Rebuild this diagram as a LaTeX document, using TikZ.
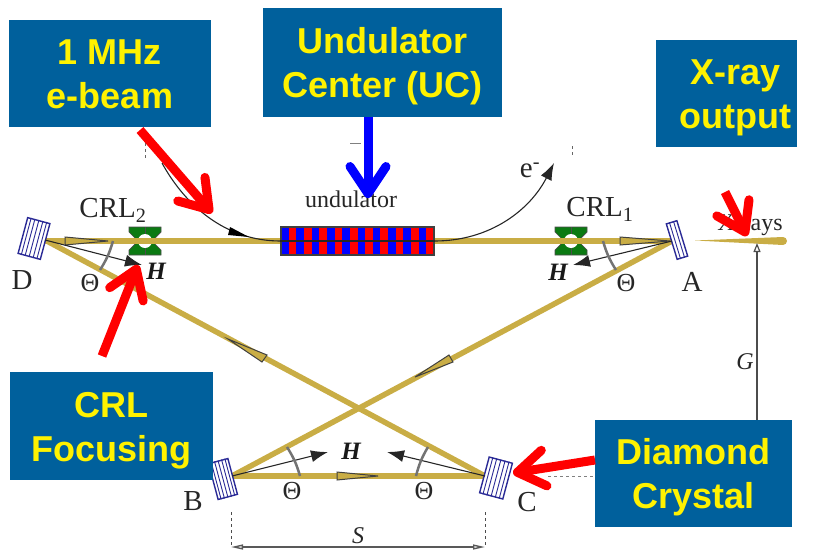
\documentclass[tikz,border=0pt]{standalone}
\usepackage{fontspec}
\setmainfont{Liberation Serif}
\newfontfamily\boxfont{Liberation Sans}
\usepackage{xcolor}
\usetikzlibrary{arrows.meta,calc}
\definecolor{boxblue}{HTML}{00609C}
\definecolor{beamgold}{HTML}{C9AD45}
\definecolor{lensgreen}{HTML}{0B7A12}
\definecolor{mirrorblue}{HTML}{2A2A96}
\tikzset{
  callout/.style={fill=boxblue, text=yellow, inner sep=0pt,
    font=\boxfont\bfseries\fontsize{36}{44}\selectfont},
  beam/.style={draw=beamgold, line width=5.5pt},
  wedge/.style={draw=black!75, fill=beamgold, line width=1pt},
  hvec/.style={draw=black!85, line width=1.1pt, -{Latex[length=17pt,width=12pt]}},
  anglemark/.style={draw=black!55, line width=2.5pt},
  pointer/.style={line width=9pt, -{Straight Barb[round,length=27pt,width=36pt,line width=9pt]}},
  lbl/.style={inner sep=0pt, font=\fontsize{29}{32}\selectfont, text=black!85},
  small/.style={inner sep=0pt, font=\fontsize{24}{28}\selectfont, text=black!85},
  vecl/.style={inner sep=0pt, font=\bfseries\itshape\fontsize{25}{28}\selectfont, text=black!90},
  mirror/.style={draw=mirrorblue, line width=1.4pt, fill=white, minimum height=37pt, inner sep=0pt}
}
\newcommand{\boxtext}[2]{\raisebox{-10.8pt}[0pt][0pt]{\begin{tabular}{@{}c@{}}#1\\#2\end{tabular}}}
\newcommand{\crllens}[2]{
  \fill[lensgreen, draw=black!70, line width=.7pt] (#1-16,#2-14) -- (#1+16,#2-14) -- (#1+16,#2-9) -- (#1+10,#2-3)
    -- (#1+10,#2+3) -- (#1+16,#2+9) -- (#1+16,#2+14) -- (#1-16,#2+14) -- (#1-16,#2+9)
    -- (#1-10,#2+3) -- (#1-10,#2-3) -- (#1-16,#2-9) -- cycle;
  \draw[black!70, line width=.7pt] (#1,#2-14) -- (#1,#2+14);
  \fill[white] (#1,#2) circle (7pt);
}
\begin{document}
\begin{tikzpicture}[x=1pt,y=-1pt]
    \useasboundingbox (0,0) rectangle (813,552);

    \coordinate (ptD) at (45,240);
    \coordinate (ptDr) at (45,241);
    \coordinate (ptA) at (672,241);
    \coordinate (ptB) at (232,476);
    \coordinate (ptC) at (485,476);

    % lenses
    \crllens{145}{241}
    \crllens{571}{241}
    \node[lbl] (crltwo) at (113,210) {CRL\textsubscript{2}};
    \node[lbl] (crlone) at (600,209) {CRL\textsubscript{1}};

    % beams
    \draw[beam] (ptDr) -- (ptA);
    \draw[beam] (ptD) -- (ptC);
    \draw[beam] (ptA) -- (ptB);
    \draw[beam] (ptB) -- (ptC);
    \fill[beamgold] (695,240.5) -- (783,237) arc (90:-90:4pt) -- cycle;

    % wedges on the beams
    \draw[wedge] (65,237) -- (108,241) -- (65,245) -- cycle;
    \draw[wedge] (620,237) -- (670,241) -- (620,245) -- cycle;
    \draw[wedge] (337,472) -- (378,476) -- (337,480) -- cycle;
    \draw[wedge] (228,339) -- (267,355) -- (262,362) -- cycle;
    \draw[wedge] (415,377) -- (449,355) -- (453,362) -- cycle;

    % undulator
    \foreach \i in {0,2,...,18} {
        \fill[blue] (281+7.65*\i,227) rectangle ++(7.65,28);
        \fill[red] (281+7.65*\i+7.65,227) rectangle ++(7.65,28);
    }
    \node[draw=black!75, line width=1.2pt, minimum width=153pt, minimum height=28pt, inner sep=0pt] (und) at (357.5,241) {};
    \draw[black!85, line width=1.2pt] (und.west) -- (und.east);
    \node[small] (undl) at (351,199) {undulator};

    % electron path
    \coordinate (ein) at (162,163);
    \coordinate (eout) at (554,163);
    \draw[black!85, line width=1.1pt] (ein) .. controls (185,205) and (225,241) .. (und.west);
    \fill[black] (249,237) -- (230,227) -- (228,235) -- cycle;
    \draw[hvec] (und.east) .. controls (490,241) and (530,210) .. (eout);
    \node[lbl] (el) at (530,170) {e\textsuperscript{-}};

    % mirrors
    \node[mirror, minimum width=23pt, rotate=-15] (mD) at (34,238.5) {};
    \node[mirror, minimum width=11pt, rotate=17] (mA) at (677,240) {};
    \node[mirror, minimum width=20pt, rotate=15] (mB) at (223,479) {};
    \node[mirror, minimum width=24pt, rotate=-15] (mC) at (496,478) {};
    \foreach \m in {mD,mB,mC} \foreach \f in {.17,.33,.5,.67,.83}
        \draw[mirrorblue, line width=.9pt] ($(\m.north west)!\f!(\m.north east)$) -- ($(\m.south west)!\f!(\m.south east)$);
    \foreach \f in {.33,.67}
        \draw[mirrorblue, line width=.9pt] ($(mA.north west)!\f!(mA.north east)$) -- ($(mA.south west)!\f!(mA.south east)$);

    % H vectors and angle marks
    \coordinate (hD) at (142,265);
    \coordinate (hA) at (573,265);
    \coordinate (hB) at (328,452);
    \coordinate (hC) at (387,452);
    \draw[hvec] (ptD) -- (hD);
    \draw[hvec] (ptA) -- (hA);
    \draw[hvec] (ptB) -- (hB);
    \draw[hvec] (ptC) -- (hC);
    \draw[anglemark] (113,241) to[bend left=8] (100,270);
    \draw[anglemark] (603,241) to[bend right=8] (616,270);
    \draw[anglemark] (287,447) to[bend left=8] (300,476);
    \draw[anglemark] (428,447) to[bend right=8] (416,476);

    \node[lbl] (lD) at (22,280) {D};
    \node[lbl] (lA) at (692,282) {A};
    \node[lbl] (lB) at (193,501) {B};
    \node[lbl] (lC) at (527,502) {C};
    \node[small, font=\fontsize{26}{28}\selectfont] (tD) at (90,283) {Θ};
    \node[small, font=\fontsize{26}{28}\selectfont] (tA) at (626,283) {Θ};
    \node[small, font=\fontsize{26}{28}\selectfont] (tB) at (292,491) {Θ};
    \node[small, font=\fontsize{26}{28}\selectfont] (tC) at (424,491) {Θ};
    \node[vecl] (vD) at (156,271) {H};
    \node[vecl] (vA) at (558,272) {H};
    \node[vecl] (vB) at (351,451) {H};
    \node[small, font=\itshape\fontsize{24}{28}\selectfont] (lG) at (745,362) {G};
    \node[small, font=\itshape\fontsize{24}{28}\selectfont] (lS) at (358,536) {S};
    \node[small] (lX) at (750,225) {X-rays};

    % gap and spacing
    \coordinate (gtop) at (757,243);
    \coordinate (gbot) at (757,420);
    \draw[black!70, line width=1.2pt, -{Triangle[open,length=9pt,width=7pt]}] (gbot) -- (gtop);
    \coordinate (sl) at (231,547);
    \coordinate (sr) at (485,547);
    \draw[black!65, line width=1.4pt, {Triangle[open,length=12pt,width=5pt]}-{Triangle[open,length=12pt,width=5pt]}] (sl) -- (sr);
    \draw[black!70, dashed] (231,512) -- (sl);
    \draw[black!70, dashed] (485,512) -- (sr);
    \draw[black!50, dashed, line width=1pt] (548,476) -- (595,476);
    \draw[black!60, dashed] (145,143) -- (145,158);
    \draw[black!60, dashed] (572,146) -- (572,158);
    \draw[black!50] (350,143) -- (361,143);

    % callouts
    \node[callout, minimum width=202pt, minimum height=107pt] (ebeam) at (110,73.5) {\boxtext{1 MHz}{e-beam}};
    \node[callout, minimum width=239pt, minimum height=109pt] (uc) at (382.5,62.5) {\boxtext{Undulator}{Center (UC)}};
    \node[callout, minimum width=141pt, minimum height=107pt] (xout) at (726.5,93.5) {\hspace*{18pt}\boxtext{X-ray}{output}};
    \node[callout, minimum width=203pt, minimum height=108pt] (crlf) at (111.5,426) {\boxtext{CRL}{Focusing}};
    \node[callout, minimum width=197pt, minimum height=107pt] (dia) at (693.5,473.5) {\boxtext{Diamond}{Crystal}};

    % pointers
    \coordinate (p1) at (140,130);
    \coordinate (p1t) at (212,213);
    \coordinate (p2) at (102,356);
    \coordinate (p2t) at (138,265);
    \coordinate (p3) at (725,192);
    \coordinate (p3t) at (747,236);
    \coordinate (p4) at (595,460);
    \coordinate (p4t) at (513,473);
    \coordinate (p5t) at (368,198);
    \draw[pointer, red] (p1) -- (p1t);
    \draw[pointer, red] (p2) -- (p2t);
    \draw[pointer, red] (p3) -- (p3t);
    \draw[pointer, red] (p4) -- (p4t);
    \draw[pointer, blue] (uc.south -| p5t) -- (p5t);
\end{tikzpicture}
\end{document}
